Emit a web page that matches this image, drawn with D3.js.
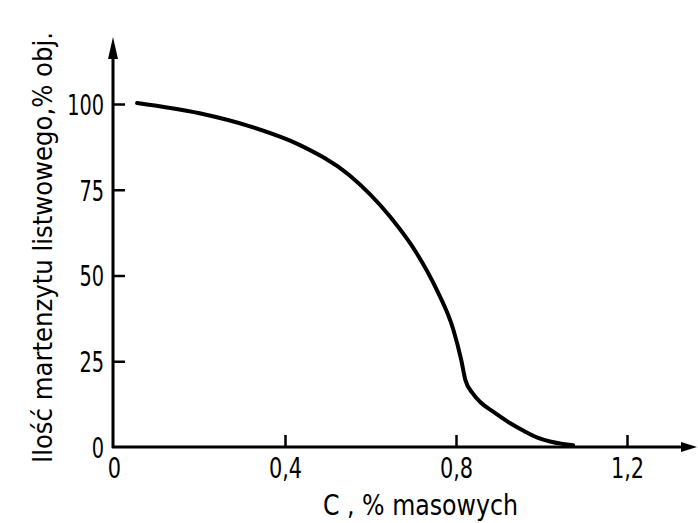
<!DOCTYPE html>
<html>
<head>
<meta charset="utf-8">
<script src="https://cdn.jsdelivr.net/npm/d3@7/dist/d3.min.js"></script>
<style>
  html, body { margin: 0; padding: 0; background: #fff; }
  svg { display: block; }
  text { font-family: "DejaVu Sans Condensed", "DejaVu Sans", sans-serif; fill: #000; }
</style>
</head>
<body>
<svg id="chart" width="698" height="523"></svg>
<script>
// Data
const carbon = [0.054, 0.20, 0.32, 0.435, 0.55, 0.646, 0.708, 0.755, 0.794, 0.812, 0.822, 0.84, 0.856, 0.887, 0.926, 0.96, 0.989, 1.02, 1.05, 1.074];
const lathMartensite = [100.3, 97.3, 93.4, 88.0, 79.3, 67.1, 56.5, 45.8, 34.1, 25.5, 19.5, 15.5, 13.2, 10.3, 7.0, 4.6, 2.8, 1.6, 0.9, 0.5];
const xTicks = [0, 0.4, 0.8, 1.2];
const xTickLabels = ["0", "0,4", "0,8", "1,2"];
const yTicks = [0, 25, 50, 75, 100];
const xTitle = "C , % masowych";
const yTitle = "Ilość martenzytu listwowego,% obj.";

const svg = d3.select("#chart");
const x = d3.scaleLinear().domain([0, 1.2]).range([114, 627]);
const y = d3.scaleLinear().domain([0, 100]).range([447, 104]);
const axisX0 = 113, axisY0 = 447;

function narrow(sel, k) {
  sel.each(function () {
    const w = this.getComputedTextLength();
    d3.select(this).attr("textLength", w * k).attr("lengthAdjust", "spacingAndGlyphs");
  });
}

// X axis ticks & labels
const gx = svg.append("g").attr("transform", `translate(0,${axisY0})`)
  .call(d3.axisBottom(x).tickValues(xTicks).tickSize(-12).tickPadding(10)
    .tickFormat((d, i) => xTickLabels[i]));
gx.select(".domain").remove();
gx.selectAll(".tick line").attr("stroke", "#000").attr("stroke-width", 2.5)
  .filter(d => d === 0).remove();
gx.selectAll(".tick text").attr("font-size", 29).attr("fill", "#000").call(narrow, 0.8);

// Y axis ticks & labels
const gy = svg.append("g").attr("transform", `translate(${axisX0},0)`)
  .call(d3.axisLeft(y).tickValues(yTicks).tickSize(-12).tickPadding(9));
gy.select(".domain").remove();
gy.selectAll(".tick line").attr("stroke", "#000").attr("stroke-width", 2.5)
  .filter(d => d === 0).remove();
gy.selectAll(".tick text").attr("font-size", 29).attr("fill", "#000").attr("dy", "0.36em").call(narrow, 0.74);

// Axis lines with arrows
svg.append("line").attr("x1", axisX0).attr("y1", axisY0 + 1).attr("x2", axisX0).attr("y2", 50)
  .attr("stroke", "#000").attr("stroke-width", 3);
svg.append("path").attr("d", `M${axisX0},37 L${axisX0 - 5},59 L${axisX0 + 5},59 Z`).attr("fill", "#000");
svg.append("line").attr("x1", axisX0 - 1).attr("y1", axisY0).attr("x2", 686).attr("y2", axisY0)
  .attr("stroke", "#000").attr("stroke-width", 3);
svg.append("path").attr("d", `M697,${axisY0} L681,${axisY0 - 5} L681,${axisY0 + 5} Z`).attr("fill", "#000");

// Curve
const pts = carbon.map((c, i) => [c, lathMartensite[i]]);
svg.append("path")
  .datum(pts)
  .attr("fill", "none")
  .attr("stroke", "#000")
  .attr("stroke-width", 4)
  .attr("stroke-linecap", "round")
  .attr("d", d3.line().x(d => x(d[0])).y(d => y(d[1])).curve(d3.curveMonotoneX));

// Titles
svg.append("text").attr("x", 323).attr("y", 515)
  .attr("font-size", 28).attr("textLength", 195).attr("lengthAdjust", "spacingAndGlyphs")
  .text(xTitle);
svg.append("text")
  .attr("transform", "translate(52,463) rotate(-90)")
  .attr("font-size", 27).attr("textLength", 431).attr("lengthAdjust", "spacingAndGlyphs")
  .text(yTitle);
</script>
</body>
</html>
